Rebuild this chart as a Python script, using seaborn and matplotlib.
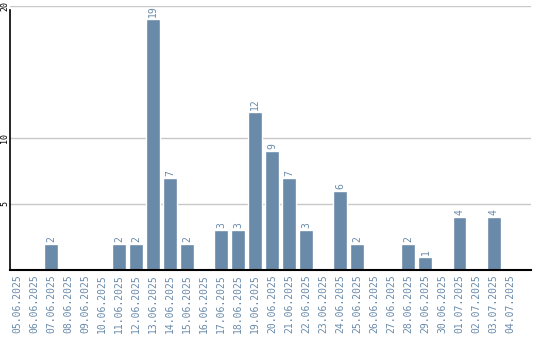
import matplotlib
matplotlib.use("Agg")
import matplotlib.pyplot as plt
import seaborn as sns
import pandas as pd

dates = ["05.06.2025", "06.06.2025", "07.06.2025", "08.06.2025", "09.06.2025",
         "10.06.2025", "11.06.2025", "12.06.2025", "13.06.2025", "14.06.2025",
         "15.06.2025", "16.06.2025", "17.06.2025", "18.06.2025", "19.06.2025",
         "20.06.2025", "21.06.2025", "22.06.2025", "23.06.2025", "24.06.2025",
         "25.06.2025", "26.06.2025", "27.06.2025", "28.06.2025", "29.06.2025",
         "30.06.2025", "01.07.2025", "02.07.2025", "03.07.2025", "04.07.2025"]
counts = [0, 0, 2, 0, 0, 0, 2, 2, 19, 7,
          2, 0, 3, 3, 12, 9, 7, 3, 0, 6,
          2, 0, 0, 2, 1, 0, 4, 0, 4, 0]
y_ticks = [5, 10, 20]

bar_color = "#6a8aaa"
label_color = "#6a8aaa"

sns.set_theme(style="white")
plt.rcParams['font.family'] = ['DejaVu Sans Mono', 'DejaVu Sans']

df = pd.DataFrame({"date": dates, "count": counts})

fig = plt.figure(figsize=(5.4, 3.4), dpi=100)
ax = fig.add_axes([10 / 540, 70 / 340, 521 / 540, 264 / 340])

sns.barplot(data=df, x="date", y="count", color=bar_color, saturation=1,
            width=0.82, ax=ax, zorder=3)

ax.set_xlim(-0.41, 30.2)
ax.set_ylim(0, 20)
ax.set_yticks(y_ticks)
ax.set_yticklabels([str(v) for v in y_ticks], rotation=90, va="center",
                   fontsize=6, color="black")
ax.tick_params(axis="y", length=0, pad=0.5)
ax.tick_params(axis="x", length=0, pad=3)
ax.set_xticks(range(len(dates)))
ax.set_xticklabels(dates, rotation=90, fontsize=7, color=label_color)
ax.set_xlabel("")
ax.set_ylabel("")

for v in y_ticks:
    ax.axhline(v, color="#c8c8c8", lw=1, zorder=1)

for s in ["top", "right"]:
    ax.spines[s].set_visible(False)
ax.spines["left"].set_color("black")
ax.spines["bottom"].set_color("black")
ax.spines["left"].set_linewidth(1.2)
ax.spines["bottom"].set_linewidth(1.5)
ax.spines["left"].set_bounds(0, 19.7)
ax.spines["left"].set_zorder(4)
ax.spines["bottom"].set_zorder(4)

for i, c in enumerate(counts):
    if c > 0:
        ax.text(i, c + 0.15, str(c), rotation=90, ha="center", va="bottom",
                fontsize=7, color=label_color, zorder=5)

fig.savefig("out.png", dpi=100)
